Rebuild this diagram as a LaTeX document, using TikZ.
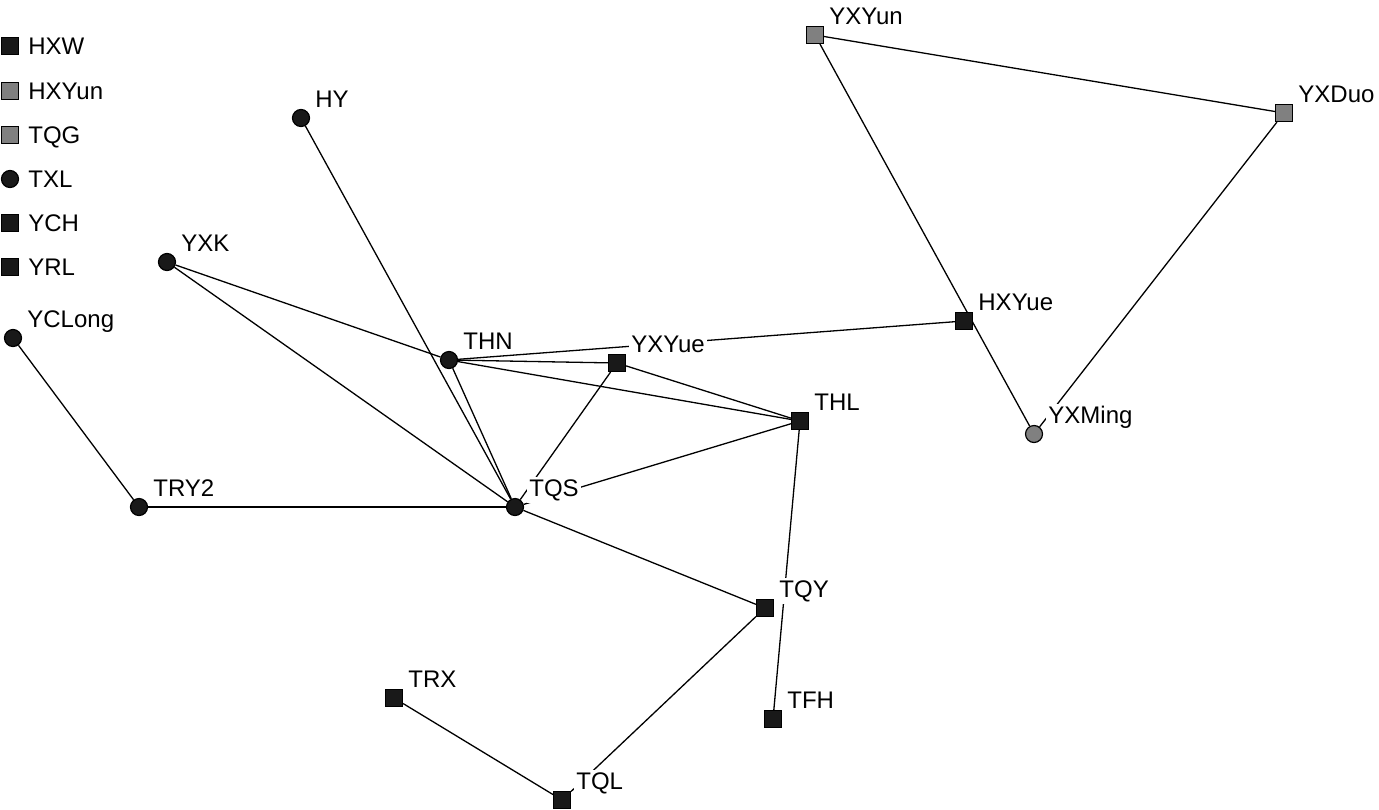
\documentclass[tikz,border=0pt]{standalone}
\usepackage{fontspec}
\setmainfont{Liberation Sans}
\usetikzlibrary{backgrounds}

\begin{document}
\begin{tikzpicture}[x=0.5pt, y=-0.5pt,
  dot/.style    ={circle, draw, line width=0.6pt, fill=black!90, minimum size=8.5pt, inner sep=0pt},
  sq/.style     ={rectangle, draw, line width=0.6pt, fill=black!90, minimum size=8.5pt, inner sep=0pt},
  graydot/.style={dot, fill=black!50},
  graysq/.style ={sq, fill=black!50},
  lbl/.style    ={anchor=base west, fill=white, inner sep=1pt, font=\fontsize{12}{14}\selectfont},
  edge/.style   ={line width=0.65pt}
]
\useasboundingbox (0,0) rectangle (1379,809);

%%% ---- legend (top left) ----------------------------------------------
\node[sq]      (lg-hxw)   at (10, 46)  {};
\node[graysq]  (lg-hxyun) at (10, 91)  {};
\node[graysq]  (lg-tqg)   at (10,135)  {};
\node[dot]     (lg-txl)   at (10,179)  {};
\node[sq]      (lg-ych)   at (10,223)  {};
\node[sq]      (lg-yrl)   at (10,267)  {};
\node[lbl, fill=none] (lgt-hxw)   at (26, 54) {HXW};
\node[lbl, fill=none] (lgt-hxyun) at (26, 99) {HXYun};
\node[lbl, fill=none] (lgt-tqg)   at (26,143) {TQG};
\node[lbl, fill=none] (lgt-txl)   at (26,187) {TXL};
\node[lbl, fill=none] (lgt-ych)   at (26,231) {YCH};
\node[lbl, fill=none] (lgt-yrl)   at (26,275) {YRL};

%%% ---- network nodes ----------------------------------------------------
% circles
\node[dot]     (yclong) at ( 13,338) {};
\node[dot]     (hy)     at (301,118) {};
\node[dot]     (yxk)    at (167,262) {};
\node[dot]     (thn)    at (449,360) {};
\node[dot]     (try2)   at (139,507) {};
\node[dot]     (tqs)    at (515,507) {};
\node[graydot] (yxming) at (1034,434) {};
% squares
\node[sq]      (yxyue)  at (617,363) {};
\node[sq]      (thl)    at (800,421) {};
\node[sq]      (hxyue)  at (964,321) {};
\node[sq]      (tqy)    at (765,608) {};
\node[sq]      (tfh)    at (773,719) {};
\node[sq]      (trx)    at (394,698) {};
\node[sq]      (tql)    at (562,800) {};
\node[graysq]  (yxyun)  at (815, 35) {};
\node[graysq]  (yxduo)  at (1284,113) {};

%%% ---- edges (behind nodes, white labels cover them) -------------------
\begin{pgfonlayer}{background}
\draw[edge] (yclong) -- (try2);
\draw[edge] (try2)   -- (tqs);
\draw[edge] (yxk)    -- (thn);
\draw[edge] (yxk)    -- (tqs);
\draw[edge] (hy)     -- (tqs);
\draw[edge] (thn)    -- (tqs);
\draw[edge] (thn)    -- (yxyue);
\draw[edge] (thn)    -- (hxyue);
\draw[edge] (thn)    -- (thl);
\draw[edge] (yxyue)  -- (thl);
\draw[edge] (yxyue)  -- (tqs);
\draw[edge] (tqs)    -- (thl);
\draw[edge] (tqs)    -- (tqy);
\draw[edge] (thl)    -- (tfh);
\draw[edge] (tqy)    -- (tql);
\draw[edge] (trx)    -- (tql);
\draw[edge] (yxyun)  -- (yxduo);
\draw[edge] (yxyun)  -- (yxming);
\draw[edge] (yxduo)  -- (yxming);
\end{pgfonlayer}

%%% ---- labels -----------------------------------------------------------
\foreach \n/\t in {yclong/YCLong, hy/HY, yxk/YXK, thn/THN, try2/TRY2, tqs/TQS,
                   yxming/YXMing, yxyue/YXYue, thl/THL, hxyue/HXYue, tqy/TQY,
                   tfh/TFH, trx/TRX, tql/TQL, yxyun/YXYun, yxduo/YXDuo}
  \node[lbl] (\n-l) at ([shift={(12,-11)}]\n.center) {\t};

\end{tikzpicture}
\end{document}
